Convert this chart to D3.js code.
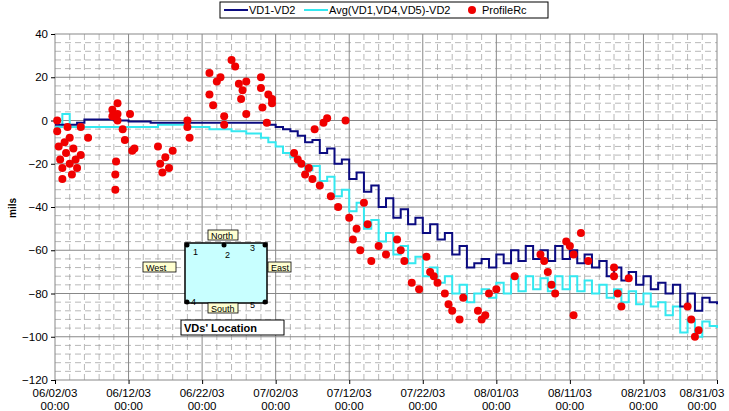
<!DOCTYPE html><html><head><meta charset="utf-8"><script src="https://cdn.jsdelivr.net/npm/d3@7"></script>
<style>body{margin:0;background:#fff}text{font-family:Arial,"Liberation Sans",sans-serif}</style></head><body><svg id="c" width="729" height="411"></svg><script>
const xTickLabels=["06/02/03","06/12/03","06/22/03","07/02/03","07/12/03","07/22/03","08/01/03","08/11/03","08/21/03","08/31/03"];
const yTicks=[40,20,0,-20,-40,-60,-80,-100,-120];
const vd1=[-2,-2,-2,-1,0.5,0.5,0.5,0.5,0,0,-0.5,-0.5,-0.5,-1,-1,-1,-1,-1,-1,-1,-1,-1,-1,-1,-1,-1,-1,-1,-1,-2,-3,-4,-5,-7,-10,-9,-15,-13,-20,-18,-27,-24,-33,-30,-40,-36,-45,-41,-48,-45,-52,-48,-55,-52,-62,-58,-68,-66,-64,-68,-62,-66,-60,-65,-58,-64,-60,-65,-58,-64,-60,-66,-62,-68,-65,-72,-68,-74,-70,-76,-72,-78,-75,-80,-76,-86,-80,-88,-82,-84,-85];
const avg=[-3,3,-3,-3,-3,-3,-3,-3,-3,-3,-3,-3,-3,-3,-2,-2,-2,-2,-3,-3,-3,-4,-4,-4,-5,-5,-6,-6,-8,-10,-12,-15,-17,-20,-23,-21,-28,-26,-35,-32,-42,-38,-50,-46,-56,-52,-62,-58,-66,-63,-72,-68,-75,-72,-80,-76,-84,-80,-78,-82,-75,-80,-73,-79,-72,-78,-73,-79,-72,-78,-72,-79,-74,-80,-76,-82,-78,-84,-79,-85,-80,-86,-84,-90,-86,-98,-92,-100,-93,-95,-96];
const profDays=[0.3,0.3,0.5,0.7,1,1,1.3,1.5,1.7,2,2,2.3,2.5,2.8,3,3.5,3.5,4.5,7.8,7.8,8.2,8.2,8.3,8.5,8.5,8.5,9.2,9.5,10.2,10.5,10.8,14,14.3,14.6,15,15.5,16,18,18,18.3,21,21,21.5,22,22.5,23,23,24,24.5,25,25.3,25.5,26,26,28,28,28.2,28.8,29,29.5,29.5,32.5,33,33.5,34,34.5,35,35.3,36,36.5,37,39.5,37.5,38.5,40,40.5,41,41.5,42,42.5,43,44,45,46.5,47,47.5,48.5,49.5,50.5,51,51.5,52,53,53.5,54,55,55.5,57.5,58,58.5,59,60,62.5,66,66.5,67,67.5,68,69.5,70,70.5,70.5,71.5,72.5,76,76,76.5,77,78,86,86.5,87,87.5];
const profVals=[0,-5,-12,-18,-22,-27,-10,-15,-3,-8,-20,-25,-13,-18,-22,-16,-3,-8,2,5,-25,-32,-19,8,3,0,-4,-9,3,-14,-13,-12,-20,-24,-17,-22,-14,0,-3,-8,22,12,7,18,20,-2,2,28,25,17,10,14,18,3,20,15,6,-1,12,10,8,-15,-18,-20,-25,-22,-27,-4,-30,-1,1,0,-35,-40,-45,-55,-50,-60,-38,-48,-65,-58,-62,-55,-60,-65,-75,-78,-63,-70,-72,-75,-80,-85,-88,-92,-82,-88,-92,-90,-80,-78,-72,-62,-65,-70,-76,-80,-56,-58,-62,-90,-52,-65,-68,-72,-80,-86,-73,-86,-92,-100,-97];
const svg=d3.select("#c");
const x=d3.scaleLinear().domain([0,90]).range([55,717]);
const y=d3.scaleLinear().domain([-120,40]).range([380,34]);
const g=svg.append("g");
for(let d=2;d<90;d+=2){if(d%10)g.append("line").attr("x1",x(d)).attr("x2",x(d)).attr("y1",34).attr("y2",380).attr("stroke","#999").attr("stroke-dasharray","6,4").attr("stroke-width",0.7);}
const minorY=[-116,-112,-108,-104,-96,-92,-88,-84,-76,-72,-68,-64,-56,-52,-48,-44,-36,-32,-28,-24,-16,-12,-8,-4,4,8,12,16,24,28,32,36];
minorY.forEach(v=>g.append("line").attr("x1",55).attr("x2",717).attr("y1",y(v)).attr("y2",y(v)).attr("stroke","#999").attr("stroke-dasharray","6,4").attr("stroke-width",0.7));
for(let d=10;d<90;d+=10)g.append("line").attr("x1",x(d)).attr("x2",x(d)).attr("y1",34).attr("y2",380).attr("stroke","#888").attr("stroke-width",1);
yTicks.forEach(v=>{if(v>-120&&v<40)g.append("line").attr("x1",55).attr("x2",717).attr("y1",y(v)).attr("y2",y(v)).attr("stroke","#888")});
g.append("rect").attr("x",55).attr("y",34).attr("width",662).attr("height",346).attr("fill","none").attr("stroke","#888");
const ya=svg.append("g").attr("transform","translate(55,0)").call(d3.axisLeft(y).tickValues(yTicks).tickSize(4));
ya.select(".domain").remove();ya.selectAll("text").attr("font-size",11.5).attr("fill","#000");
const xa=svg.append("g").attr("transform","translate(0,380)").call(d3.axisBottom(x).tickValues(d3.range(0,91,10)).tickSize(4).tickFormat(""));
xa.select(".domain").remove();
xTickLabels.forEach((t,i)=>{const tx=Math.min(Math.max(x(i*10),28),702);const s=svg.append("text").attr("x",tx).attr("text-anchor","middle").attr("font-size",11.5);s.append("tspan").attr("x",tx).attr("y",397).text(t);s.append("tspan").attr("x",tx).attr("y",410).text("00:00");});
svg.append("text").attr("transform","translate(16,208) rotate(-90)").attr("text-anchor","middle").attr("font-size",10).attr("font-weight","bold").text("mils");
const ln=d3.line().x((d,i)=>x(i)).y(d=>y(d)).curve(d3.curveStepAfter);
svg.append("path").datum(avg).attr("d",ln).attr("fill","none").attr("stroke","#33e8f0").attr("stroke-width",2);
svg.append("path").datum(vd1).attr("d",ln).attr("fill","none").attr("stroke","#0a0a80").attr("stroke-width",2);
svg.append("g").selectAll("circle").data(profDays).join("circle").attr("cx",d=>x(d)).attr("cy",(d,i)=>y(profVals[i])).attr("r",4).attr("fill","#f00000");
const ins=svg.append("g");
ins.append("rect").attr("x",185).attr("y",243).attr("width",82).attr("height",60).attr("fill","#c8ffff").attr("stroke","#000").attr("stroke-width",1.5);
[[187,245,"1",193,255],[224,245,"2",225,258],[265,245,"3",250,251],[187,302,"4",191,305],[265,302,"5",250,308]].forEach(p=>{ins.append("circle").attr("cx",p[0]).attr("cy",p[1]).attr("r",2.5).attr("fill","#000");ins.append("text").attr("x",p[3]).attr("y",p[4]).attr("font-size",9).text(p[2]);});
[["North",208,230,30],["West",143,262,33],["East",268,262,23],["South",208,303,30]].forEach(p=>{ins.append("rect").attr("x",p[1]).attr("y",p[2]).attr("width",p[3]).attr("height",10).attr("fill","#ffffd0").attr("stroke","#000").attr("stroke-width",0.8);ins.append("text").attr("x",p[1]+3).attr("y",p[2]+9).attr("font-size",9).text(p[0]);});
ins.append("rect").attr("x",181).attr("y",320).attr("width",103).attr("height",15).attr("fill","#fff").attr("stroke","#000");
ins.append("text").attr("x",184).attr("y",332).attr("font-size",11).attr("font-weight","bold").text("VDs' Location");
const lg=svg.append("g");
lg.append("rect").attr("x",220).attr("y",2).attr("width",328).attr("height",16).attr("fill","#fff").attr("stroke","#000");
lg.append("line").attr("x1",224).attr("x2",248).attr("y1",10).attr("y2",10).attr("stroke","#0a0a80").attr("stroke-width",2);
lg.append("text").attr("x",249).attr("y",14).attr("font-size",11).text("VD1-VD2");
lg.append("line").attr("x1",304).attr("x2",328).attr("y1",10).attr("y2",10).attr("stroke","#33e8f0").attr("stroke-width",2);
lg.append("text").attr("x",329).attr("y",14).attr("font-size",11).text("Avg(VD1,VD4,VD5)-VD2");
lg.append("circle").attr("cx",472).attr("cy",10).attr("r",4).attr("fill","#f00000");
lg.append("text").attr("x",482).attr("y",14).attr("font-size",11).text("ProfileRc");
</script></body></html>
